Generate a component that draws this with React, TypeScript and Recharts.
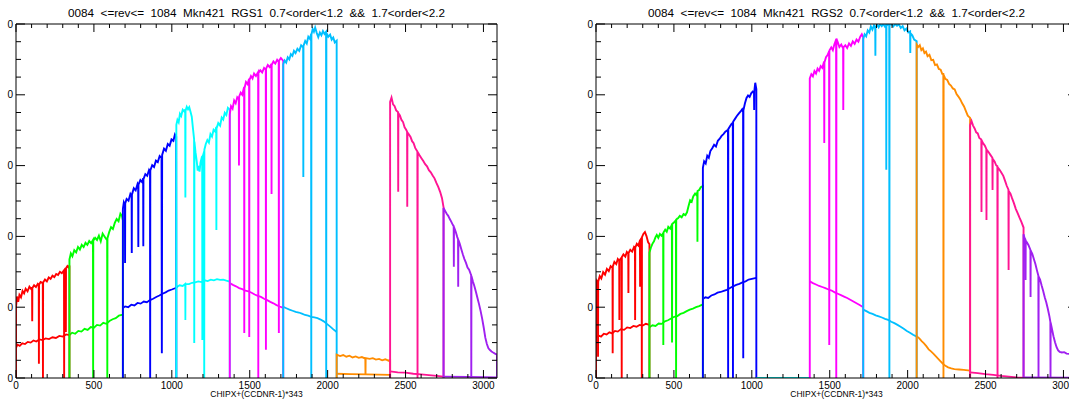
import { LineChart, Line, XAxis, YAxis, ReferenceLine } from "recharts"

type Pt = [number, number]

// one colour per CCD, CCD1 .. CCD9 (each CCD is 343 columns wide)
const ccdColors = ["#ff0000", "#00ff00", "#0000ff", "#00ffff", "#ff00ff", "#00bfff", "#ff8c00", "#ff1493", "#a020f0"]

const xTicks = [0, 100, 200, 300, 400, 500, 600, 700, 800, 900, 1000, 1100, 1200, 1300, 1400, 1500, 1600, 1700, 1800, 1900, 2000, 2100, 2200, 2300, 2400, 2500, 2600, 2700, 2800, 2900, 3000]
const yTicks = [0, 5, 10, 15, 20, 25, 30, 35, 40, 45, 50, 55, 60, 65, 70, 75, 80, 85, 90, 95, 100]

const titleRgs1 = "0084  <=rev<=  1084  Mkn421  RGS1  0.7<order<1.2  &&  1.7<order<2.2"
const titleRgs2 = "0084  <=rev<=  1084  Mkn421  RGS2  0.7<order<1.2  &&  1.7<order<2.2"
const xTitle = "CHIPX+(CCDNR-1)*343"

// ---- RGS1: first order (up) and second order (low) per CCD ----
const r1RedUp: Pt[] = [[0,0],[0,20],[6,23],[14,21.5],[22,23.5],[32,22.8],[42,24.6],[52,23.9],[62,25.2],[74,24.5],[86,25.8],[98,25.1],[103,25.6],[104,16],[105,25.4],[116,26.2],[128,25.7],[140,26.6],[146,26.3],[147,4],[148,26.4],[158,27.1],[172,26.8],[173,0],[174,27],[186,27.8],[198,27.3],[210,28.4],[222,28],[234,28.9],[246,28.5],[258,29.4],[270,29.1],[282,30],[294,29.6],[308,30.4],[309,0],[310,30.3],[319,30.9],[320,13],[321,31],[330,31.6],[338,31.2],[343,31.8],[343,0]]
const r1RedLow: Pt[] = [[0,8.5],[10,9.4],[24,9.1],[40,9.8],[58,9.6],[76,10.2],[94,10],[112,10.6],[130,10.3],[150,10.9],[170,10.7],[190,11.2],[212,11],[234,11.5],[256,11.3],[278,11.9],[300,11.7],[322,12.3],[343,12.1]]
const r1GreenUp: Pt[] = [[343,0],[343,33.5],[352,35.2],[362,34.4],[374,36.1],[386,35.5],[398,37],[410,36.3],[422,37.6],[434,37],[446,38.2],[458,37.6],[470,38.7],[482,38.1],[494,39],[495,0],[496,38.8],[508,39.6],[520,39],[532,40.2],[544,38.6],[556,40.8],[568,40],[580,39.2],[585,38.9],[586,0],[587,39.5],[598,41.2],[610,42.6],[622,42.1],[634,43.8],[646,44.9],[658,44.3],[670,46.4],[680,45.8],[686,44.5],[686,0]]
const r1GreenLow: Pt[] = [[343,12.1],[360,12.8],[380,12.5],[400,13.3],[420,13.1],[440,13.9],[460,13.6],[480,14.4],[500,14.2],[520,15],[540,14.8],[560,15.6],[580,15.3],[600,16.1],[620,16.6],[640,16.9],[660,17.6],[686,17.9]]
const r1BlueUp: Pt[] = [[686,0],[686,47.8],[692,49.6],[699,48.8],[700,32.5],[701,49.3],[710,50.6],[722,50.1],[734,52],[742,51.4],[743,35.3],[744,51.8],[756,53.6],[768,53],[780,54.8],[784,54.3],[785,37],[786,54.6],[798,55.9],[810,55.3],[816,56.4],[817,37.2],[818,56.2],[830,57.6],[842,57.1],[854,58.8],[860,58.3],[861,0],[862,58.6],[874,60.1],[886,59.6],[898,61.4],[910,61],[922,62.7],[934,62.2],[936,7],[938,63],[950,64.8],[962,64.2],[974,66.1],[986,65.6],[998,67.4],[1010,67],[1020,68.8],[1028,68.2],[1029,0]]
const r1BlueLow: Pt[] = [[686,19.8],[700,20.2],[720,20],[740,20.7],[760,20.5],[780,21.2],[800,21],[820,21.6],[840,21.4],[860,22],[880,22.4],[900,22.9],[920,23.3],[940,23.8],[960,24.2],[980,24.7],[1000,25],[1029,25.5]]
const r1CyanUp: Pt[] = [[1029,0],[1029,71.5],[1036,72.9],[1044,72.2],[1052,74.6],[1060,74],[1070,75.8],[1080,75.3],[1086,75.9],[1087,51],[1088,75.5],[1096,76.6],[1104,75.9],[1112,76.5],[1120,75.2],[1128,73.8],[1136,70.4],[1143,67.5],[1144,9.9],[1145,66.8],[1152,63.8],[1160,61.2],[1166,58.6],[1172,59.9],[1178,58.3],[1184,60.8],[1190,61.9],[1195,61.2],[1196,10.7],[1197,62.4],[1207,63.9],[1208,0],[1209,64.5],[1218,66.1],[1228,67.2],[1238,66.5],[1248,68.9],[1258,68.2],[1268,70.1],[1278,69.6],[1285,70.9],[1286,41.8],[1287,70.5],[1298,72],[1310,71.3],[1320,73.6],[1330,73],[1340,74.9],[1350,74.3],[1360,76.3],[1372,75.8],[1372,0]]
const r1CyanLow: Pt[] = [[1029,25.6],[1050,26.2],[1070,26],[1086,26.6],[1087,16.4],[1088,26.5],[1110,26.5],[1130,26.9],[1150,27],[1170,27.3],[1190,27.1],[1210,27.6],[1230,27.4],[1250,27.8],[1270,27.6],[1290,27.9],[1310,27.7],[1330,27.8],[1350,27.5],[1372,27.2]]
const r1MagUp: Pt[] = [[1372,0],[1372,74.5],[1380,76.8],[1390,76.1],[1400,78.4],[1410,77.6],[1420,79.3],[1430,78.8],[1431,60],[1432,79.5],[1442,80.6],[1452,80],[1464,82.2],[1465,12.7],[1466,81.8],[1476,83.6],[1486,83],[1496,84.5],[1497,11.6],[1498,84.1],[1508,85.3],[1518,84.6],[1528,86],[1540,85.3],[1554,86.4],[1555,0],[1556,86.2],[1568,86.9],[1580,86.3],[1592,87.6],[1603,87.1],[1604,8],[1605,87.4],[1616,88.4],[1628,87.8],[1639,88.7],[1640,52],[1641,88.5],[1652,89.4],[1664,88.8],[1676,89.9],[1686,89.3],[1687,12.7],[1688,89.6],[1700,90.4],[1715,89.6],[1715,0]]
const r1MagLow: Pt[] = [[1372,26.8],[1392,26.3],[1412,25.9],[1432,25.4],[1452,25.1],[1472,24.7],[1492,24.5],[1512,24.1],[1532,23.6],[1552,23.2],[1572,22.9],[1592,22.4],[1612,22],[1632,21.5],[1652,21.1],[1672,20.6],[1692,20.2],[1715,19.8]]
const r1DsbUp: Pt[] = [[1715,0],[1715,88.6],[1724,89.7],[1734,89.1],[1744,90.6],[1754,90],[1764,91.5],[1774,91],[1784,92.4],[1794,91.8],[1806,93],[1818,92.4],[1830,94],[1843,93.4],[1844,56.8],[1845,93.8],[1856,95.2],[1866,94.5],[1876,96.4],[1886,95.8],[1894,97.2],[1895,0],[1896,97],[1904,98.6],[1912,97.8],[1920,99],[1930,97.5],[1940,96.3],[1950,97.6],[1960,96.8],[1970,98],[1980,97.2],[1990,97.8],[1991,0],[1992,97.5],[2004,96.4],[2016,97],[2026,95.6],[2036,96.2],[2046,94.8],[2058,95.3],[2058,0]]
const r1DsbLow: Pt[] = [[1715,20.1],[1735,19.7],[1755,19.3],[1775,19],[1795,18.7],[1815,18.5],[1835,18.2],[1855,17.8],[1875,17.6],[1895,17.3],[1915,17.1],[1935,16.9],[1955,16.5],[1975,16],[1995,15.3],[2015,14.6],[2035,13.8],[2058,13]]
const r1OrgUp: Pt[] = [[2058,0],[2058,6.6],[2080,6.2],[2100,6.5],[2120,6],[2140,6.3],[2160,5.8],[2180,6.1],[2200,5.7],[2220,5.9],[2242,5.5],[2243,1],[2244,5.6],[2270,5.4],[2290,5.6],[2310,5.2],[2330,5.4],[2350,5],[2370,5.3],[2390,4.9],[2401,5.1],[2401,0]]
const r1OrgLow: Pt[] = [[2058,1.2],[2150,1.1],[2250,1],[2401,0.9]]
const r1PinkUp: Pt[] = [[2401,0],[2401,78],[2410,79.2],[2420,77.3],[2430,76.8],[2440,75.6],[2452,75.1],[2453,52.6],[2454,74.8],[2464,74.2],[2474,72.9],[2484,72.3],[2494,70.8],[2504,70.1],[2510,69.6],[2511,48.4],[2512,69.4],[2522,68.8],[2532,68.1],[2542,66.9],[2552,66.3],[2562,65],[2576,64],[2577,0],[2578,63.8],[2590,62.9],[2602,62.1],[2614,61.3],[2626,60.4],[2638,59.8],[2650,58.7],[2662,58.1],[2674,57.2],[2686,56.4],[2698,55.1],[2710,54],[2722,52.6],[2734,50.8],[2744,48.2],[2744,0]]
const r1PinkLow: Pt[] = [[2401,1.9],[2450,1.6],[2500,1.5],[2550,1.2],[2600,1],[2650,0.8],[2700,0.6],[2744,0.4]]
const r1PurpUp: Pt[] = [[2744,0],[2744,48],[2754,47.2],[2764,46.4],[2774,45.8],[2784,44.9],[2794,44.1],[2804,43.2],[2809,42.9],[2810,31.4],[2811,42.6],[2822,41.3],[2832,39.8],[2837,39.2],[2838,25.8],[2839,39],[2848,37.9],[2858,36.4],[2868,34.9],[2878,33.6],[2888,32.5],[2898,31.2],[2908,30.6],[2918,29.4],[2921,29.1],[2922,0],[2923,28.8],[2932,27.3],[2942,25.9],[2952,24.3],[2962,22.5],[2972,20.8],[2982,18.9],[2992,16.7],[3002,14.2],[3012,11.4],[3022,9.6],[3032,8.4],[3042,7.9],[3052,7.5],[3062,7.2],[3074,6.9],[3087,6.6],[3087,0]]
const r1PurpLow: Pt[] = [[2744,0.4],[2900,0.3],[3087,0.2]]

// ---- RGS2 (CCD4 dead) ----
const r2RedUp: Pt[] = [[0,0],[0,25.6],[6,27.4],[12,26.9],[13,6],[14,27.2],[24,28.8],[34,28.1],[46,29.9],[58,29.2],[70,30.8],[82,30.2],[94,31.6],[106,31.1],[107,7],[108,31.5],[118,32.8],[130,32.2],[140,33.6],[149,33.1],[150,16.4],[151,33.3],[164,34],[165,0],[166,34.2],[176,34.9],[188,34.3],[198,35.6],[207,35.1],[208,24],[209,35.3],[220,36.2],[232,35.7],[244,37],[250,36.6],[251,16.4],[252,36.8],[262,37.9],[272,37.4],[282,38.8],[283,25.8],[284,39],[293,39.6],[294,0],[295,39.8],[304,40.7],[314,41.2],[324,40.1],[334,38.4],[343,37.8],[343,0]]
const r2RedLow: Pt[] = [[0,11.4],[16,12],[32,11.7],[50,12.5],[68,12.3],[86,12.9],[104,12.6],[122,13.3],[140,13.1],[160,13.8],[180,13.6],[200,14.3],[220,14.1],[240,14.7],[260,14.5],[280,15],[300,14.8],[320,15.3],[343,15]]
const r2GreenUp: Pt[] = [[343,0],[343,35.4],[352,36.8],[362,37.9],[372,38.6],[382,39.8],[390,40.4],[400,39.6],[410,40.7],[420,40.2],[431,40.9],[432,9.3],[433,41.1],[444,41.9],[454,41.3],[464,42.7],[476,42.2],[487,43.3],[488,10],[489,43.5],[500,43.9],[513,44.6],[514,0],[515,44.8],[526,45.1],[538,45.8],[550,45.4],[562,46.3],[574,46],[584,46.8],[594,48.6],[604,50.2],[614,49.8],[624,51.3],[636,52.1],[646,51.6],[650,52.6],[651,38.5],[652,52.8],[662,53.1],[672,53.9],[686,54.2],[686,0]]
const r2GreenLow: Pt[] = [[343,14.3],[362,14.9],[382,14.7],[402,15.4],[422,15.3],[442,16],[462,16.3],[482,16.8],[502,17.3],[522,17.5],[542,18.1],[562,18.4],[582,18.9],[602,19.3],[622,19.6],[642,20],[662,20.3],[686,20.8]]
const r2BlueUp: Pt[] = [[686,0],[686,59.4],[694,61.2],[704,60.6],[714,62.8],[724,62.2],[734,64.1],[746,64.9],[758,65.9],[770,65.4],[782,67],[794,67.6],[806,68.4],[818,68.9],[830,69.6],[847,70.1],[848,0],[849,70.3],[860,71.1],[870,71.8],[878,72.1],[879,0],[880,72.4],[892,73.2],[904,74],[916,74.7],[928,75.3],[938,75.9],[944,75.2],[945,5.6],[946,75.6],[956,77.6],[966,79.1],[976,79.8],[986,79.4],[996,80.4],[1006,80.9],[1014,80.6],[1015,75.7],[1016,81],[1022,83.4],[1029,81.6],[1029,0]]
const r2BlueLow: Pt[] = [[686,22.3],[702,22.8],[720,22.6],[740,23.3],[760,23.6],[780,24.1],[800,24.3],[820,24.6],[840,24.9],[860,25.4],[880,25.9],[900,26.3],[920,26.6],[940,27],[960,27.3],[980,27.8],[1000,28],[1029,28.3]]
const r2CyanUp: Pt[] = [[1029,0],[1372,0]]
const r2MagUp: Pt[] = [[1372,0],[1372,84.6],[1382,85.8],[1392,85.2],[1402,86.7],[1412,86],[1422,87.4],[1432,86.8],[1442,88.1],[1452,87.6],[1464,89.4],[1465,66.4],[1466,89.1],[1476,90.6],[1486,91.2],[1496,92.3],[1497,9.3],[1498,92.5],[1510,93.4],[1520,92.6],[1530,94.3],[1541,95.6],[1542,0],[1543,95.9],[1552,94.8],[1562,93.5],[1574,94.2],[1586,93.1],[1587,75.7],[1588,93.4],[1600,94],[1612,93.2],[1624,94.5],[1636,93.8],[1648,95.1],[1660,94.4],[1672,95.6],[1684,95],[1696,96.4],[1706,97.1],[1715,96.2],[1715,0]]
const r2MagLow: Pt[] = [[1372,27.3],[1392,26.8],[1412,26.4],[1432,26],[1452,25.7],[1472,25.4],[1492,25],[1512,24.7],[1532,24.2],[1552,23.8],[1572,23.4],[1592,23],[1612,22.6],[1632,22.1],[1652,21.6],[1672,21.1],[1692,20.6],[1715,20]]
const r2DsbUp: Pt[] = [[1715,0],[1715,95.8],[1724,97.1],[1734,96.5],[1744,98.2],[1754,97.6],[1764,99.3],[1774,98.4],[1784,99.6],[1792,98.8],[1793,91],[1794,99],[1804,99.8],[1814,99.1],[1824,100],[1834,99.4],[1844,100],[1854,99.3],[1862,99.8],[1863,58.8],[1864,99.5],[1874,100],[1882,99.6],[1883,0],[1884,99.7],[1896,100],[1908,99.3],[1920,100],[1932,99.5],[1944,99.9],[1956,98.9],[1968,99.4],[1980,98.2],[1992,98.7],[2004,97.6],[2016,97.9],[2017,91.8],[2018,97.4],[2030,96.8],[2042,95.6],[2058,95.1],[2058,0]]
const r2DsbLow: Pt[] = [[1715,19.3],[1735,18.9],[1755,18.4],[1775,18.1],[1795,17.7],[1815,17.4],[1835,17.1],[1855,16.7],[1875,16.4],[1895,15.9],[1915,15.5],[1935,15],[1955,14.5],[1975,13.9],[1995,13.3],[2015,12.8],[2035,12.2],[2058,11.7]]
const r2OrgUp: Pt[] = [[2058,0],[2058,94.2],[2068,93.5],[2078,94],[2088,92.6],[2098,93.1],[2108,91.8],[2118,92.2],[2128,90.9],[2140,91.3],[2152,89.8],[2164,89.9],[2176,88.4],[2188,88.6],[2200,87.3],[2212,87.1],[2222,85.9],[2229,85.9],[2230,0],[2231,85.6],[2242,84.5],[2254,84.2],[2266,83.1],[2278,82.6],[2290,81.8],[2302,81.5],[2314,80.2],[2326,79.5],[2338,78.7],[2350,77.6],[2362,76.7],[2374,75.4],[2386,74.1],[2401,73.5],[2401,0]]
const r2OrgLow: Pt[] = [[2058,11.8],[2075,11.2],[2090,10.4],[2105,9.8],[2120,9],[2135,8.1],[2150,7.5],[2165,6.9],[2180,6.2],[2195,5.5],[2210,4.8],[2225,4.1],[2240,3.5],[2260,3],[2280,2.7],[2300,2.5],[2330,2.4],[2360,2.3],[2401,2.1]]
const r2PinkUp: Pt[] = [[2401,0],[2401,71.4],[2410,72.6],[2420,71.3],[2430,70.5],[2440,69.4],[2450,69.1],[2460,67.8],[2473,67.4],[2474,46.9],[2475,67.1],[2486,66.2],[2496,65.6],[2505,64.7],[2506,44.6],[2507,64.5],[2518,63.9],[2530,63.1],[2544,62.2],[2545,53.1],[2546,61.9],[2558,61.2],[2568,60.1],[2576,59.8],[2577,0],[2578,59.5],[2590,58.8],[2602,58],[2614,57.1],[2626,55.6],[2636,54.3],[2647,53.2],[2648,30.5],[2649,52.8],[2660,52.1],[2670,50.8],[2682,49.4],[2694,47.8],[2706,46.6],[2718,45.3],[2730,44.1],[2744,42.5],[2744,0]]
const r2PinkLow: Pt[] = [[2401,1.6],[2450,1.4],[2500,1.1],[2550,0.9],[2600,0.6],[2650,0.4],[2700,0.2],[2744,0.1]]
const r2PurpUp: Pt[] = [[2744,0],[2744,40.6],[2750,39.6],[2756,39.1],[2757,27.7],[2758,38.8],[2766,38.3],[2776,37.5],[2788,36.2],[2789,22.9],[2790,36],[2800,35.1],[2810,33.6],[2820,32.2],[2830,30.4],[2839,28.9],[2840,0],[2841,28.6],[2850,27.8],[2860,26.1],[2870,24.6],[2880,22.8],[2890,21.3],[2900,19.5],[2910,17.4],[2916,15.9],[2917,0],[2918,15.6],[2926,13.9],[2936,11.8],[2946,10.1],[2956,8.7],[2966,7.8],[2976,7.4],[2990,7.2],[3005,7.3],[3020,6.9],[3040,6.8],[3060,6.5],[3087,6.3],[3087,0]]
const r2PurpLow: Pt[] = [[2744,0.2],[3087,0.1]]

const rgs1Up = [r1RedUp, r1GreenUp, r1BlueUp, r1CyanUp, r1MagUp, r1DsbUp, r1OrgUp, r1PinkUp, r1PurpUp]
const rgs1Low = [r1RedLow, r1GreenLow, r1BlueLow, r1CyanLow, r1MagLow, r1DsbLow, r1OrgLow, r1PinkLow, r1PurpLow]
const rgs2Up = [r2RedUp, r2GreenUp, r2BlueUp, r2CyanUp, r2MagUp, r2DsbUp, r2OrgUp, r2PinkUp, r2PurpUp]
const rgs2Low = [r2RedLow, r2GreenLow, r2BlueLow, [], r2MagLow, r2DsbLow, r2OrgLow, r2PinkLow, r2PurpLow]

const PLOT_TOP = 24
const PLOT_RIGHT = 497

const toRows = (pts: Pt[]) => pts.map(([x, y]) => ({ x, y }))

const XTick = (props: any) => {
  const { x, y, payload } = props
  const major = payload.value % 500 === 0
  const len = major ? 8 : 4
  return (
    <g>
      <line x1={x} x2={x} y1={y} y2={y - len} stroke="#000" />
      <line x1={x} x2={x} y1={PLOT_TOP} y2={PLOT_TOP + len} stroke="#000" />
      {major && (
        <text x={x} y={y + 11} textAnchor="middle" fontSize={10} fill="#000">
          {payload.value}
        </text>
      )}
    </g>
  )
}

const YTick = (props: any) => {
  const { x, y, payload } = props
  const major = payload.value % 20 === 0
  const len = major ? 9 : 5
  return (
    <g>
      <line x1={x} x2={x + len} y1={y} y2={y} stroke="#000" />
      <line x1={PLOT_RIGHT} x2={PLOT_RIGHT - len} y1={y} y2={y} stroke="#000" />
      {major && (
        <text x={x - 3} y={y + 3.5} textAnchor="end" fontSize={10} fill="#000">
          0
        </text>
      )}
    </g>
  )
}

function Panel({ left, title, up, low }: { left: number; title: string; up: Pt[][]; low: Pt[][] }) {
  return (
    <div style={{ position: "absolute", left, top: 0, width: 510, height: 402 }}>
      <div style={{ position: "absolute", left: 16, top: 6, width: 481, textAlign: "center", fontSize: 11.7, lineHeight: "13px", whiteSpace: "pre" }}>
        {title}
      </div>
      <LineChart width={510} height={402} margin={{ top: 24, right: 13, bottom: 0, left: 0 }}>
        <XAxis
          type="number"
          dataKey="x"
          domain={[0, 3087]}
          allowDataOverflow
          ticks={xTicks}
          interval={0}
          tick={XTick}
          tickLine={false}
          tickSize={0}
          tickMargin={0}
          height={24}
          axisLine={{ stroke: "#000" }}
        />
        <YAxis
          type="number"
          domain={[0, 100]}
          allowDataOverflow
          ticks={yTicks}
          interval={0}
          tick={YTick}
          tickLine={false}
          tickSize={0}
          tickMargin={0}
          width={16}
          axisLine={{ stroke: "#000" }}
        />
        {low.map((pts, i) =>
          pts.length ? (
            <Line key={"l" + i} data={toRows(pts)} dataKey="y" stroke={ccdColors[i]} strokeWidth={1.8} dot={false} activeDot={false} isAnimationActive={false} />
          ) : null
        )}
        {up.map((pts, i) => (
          <Line key={"u" + i} data={toRows(pts)} dataKey="y" stroke={ccdColors[i]} strokeWidth={1.9} dot={false} activeDot={false} isAnimationActive={false} />
        ))}
        <ReferenceLine y={100} stroke="#000" />
        <ReferenceLine x={3087} stroke="#000" />
      </LineChart>
      <div style={{ position: "absolute", left: 16, top: 389, width: 481, textAlign: "center", fontSize: 8.5, lineHeight: "10px", whiteSpace: "pre" }}>
        {xTitle}
      </div>
    </div>
  )
}

export default function App() {
  return (
    <div
      style={{
        position: "absolute",
        left: 0,
        top: 0,
        width: 1069,
        height: 402,
        overflow: "hidden",
        background: "#fff",
        fontFamily: "'Liberation Sans', Arial, sans-serif",
      }}
    >
      <Panel left={0} title={titleRgs1} up={rgs1Up} low={rgs1Low} />
      <Panel left={580} title={titleRgs2} up={rgs2Up} low={rgs2Low} />
    </div>
  )
}
